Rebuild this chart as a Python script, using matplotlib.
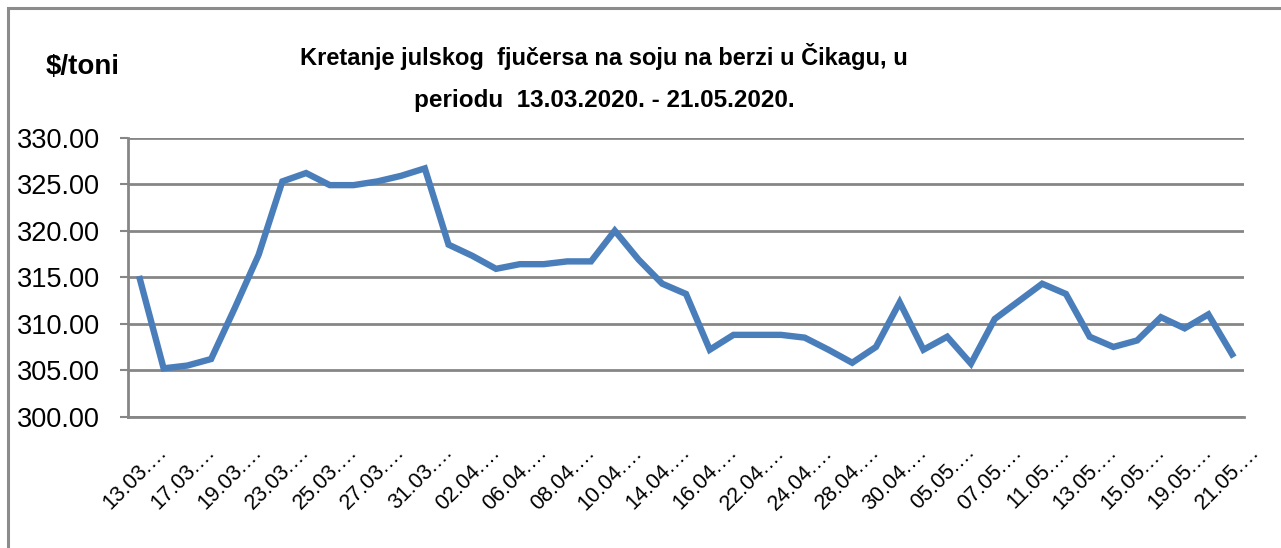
import matplotlib
matplotlib.use('Agg')
import matplotlib.pyplot as plt
import matplotlib.transforms as mtransforms
from matplotlib.patches import Rectangle

plt.rcParams['font.family'] = ['Liberation Sans', 'DejaVu Sans']

# Dados
datumi = ['13.03', '16.03', '17.03', '18.03', '19.03', '20.03', '23.03', '24.03',
          '25.03', '26.03', '27.03', '30.03', '31.03', '01.04', '02.04', '03.04',
          '06.04', '07.04', '08.04', '09.04', '10.04', '13.04', '14.04', '15.04',
          '16.04', '21.04', '22.04', '23.04', '24.04', '27.04', '28.04', '29.04',
          '30.04', '04.05', '05.05', '06.05', '07.05', '08.05', '11.05', '12.05',
          '13.05', '14.05', '15.05', '18.05', '19.05', '20.05', '21.05']
cijene = [314.8, 305.2, 305.5, 306.2, 311.7, 317.4, 325.3, 326.2,
          324.9, 324.9, 325.3, 325.9, 326.7, 318.5, 317.3, 315.9,
          316.4, 316.4, 316.7, 316.7, 320.0, 316.9, 314.3, 313.2,
          307.2, 308.8, 308.8, 308.8, 308.5, 307.2, 305.8, 307.5,
          312.3, 307.2, 308.6, 305.7, 310.5, 312.4, 314.3, 313.2,
          308.6, 307.5, 308.2, 310.7, 309.5, 311.0, 306.7]
y_ticks = [300, 305, 310, 315, 320, 325, 330]

fig = plt.figure(figsize=(12.81, 5.48), dpi=100)

# Okvir grafikona
okvir = Rectangle((8 / 1281, -0.05), 1.1, 1.05 - 8 / 548, transform=fig.transFigure,
                  fill=False, edgecolor='#8c8c8c', linewidth=2.2, clip_on=False)
fig.patches.append(okvir)

ax = fig.add_axes([128 / 1281, (548 - 416.7) / 548, 1116 / 1281, 279 / 548])

x = list(range(len(cijene)))
ax.plot(x, cijene, color='#4a7ebb', linewidth=4.6, solid_joinstyle='miter')

ax.set_xlim(-0.5, len(cijene) - 0.5)
ax.set_ylim(300, 330)
ax.set_yticks(y_ticks)
ax.set_yticklabels([f'{v:.2f}' for v in y_ticks], fontsize=19.5)
ax.yaxis.grid(True, color='#868686', linewidth=2)
ax.set_axisbelow(True)
ax.tick_params(axis='y', length=6, width=1.5, color='#868686', pad=14)

ax.set_xticks(x[::2])
ax.set_xticklabels([d + '.…' for d in datumi[::2]], rotation=45, ha='right',
                   va='top', rotation_mode='anchor', fontsize=15.5)
ax.tick_params(axis='x', length=0)
pomak = mtransforms.ScaledTranslation(17 / 100, -20 / 100, fig.dpi_scale_trans)
for lbl in ax.get_xticklabels():
    lbl.set_transform(lbl.get_transform() + pomak)

for s in ['top', 'right']:
    ax.spines[s].set_visible(False)
for s in ['left', 'bottom']:
    ax.spines[s].set_color('#868686')
    ax.spines[s].set_linewidth(2)

# Naslov
fig.text(604 / 1281, 1 - 57 / 548, 'Kretanje julskog  fjučersa na soju na berzi u Čikagu, u',
         ha='center', va='center', fontsize=17, fontweight='bold')
fig.text(604 / 1281, 1 - 100 / 548, 'periodu  13.03.2020. - 21.05.2020.',
         ha='center', va='center', fontsize=17.5, fontweight='bold')
fig.text(83 / 1281, 1 - 67 / 548, '$/toni', ha='center', va='center',
         fontsize=20, fontweight='bold')

plt.savefig('out.png', dpi=100)
